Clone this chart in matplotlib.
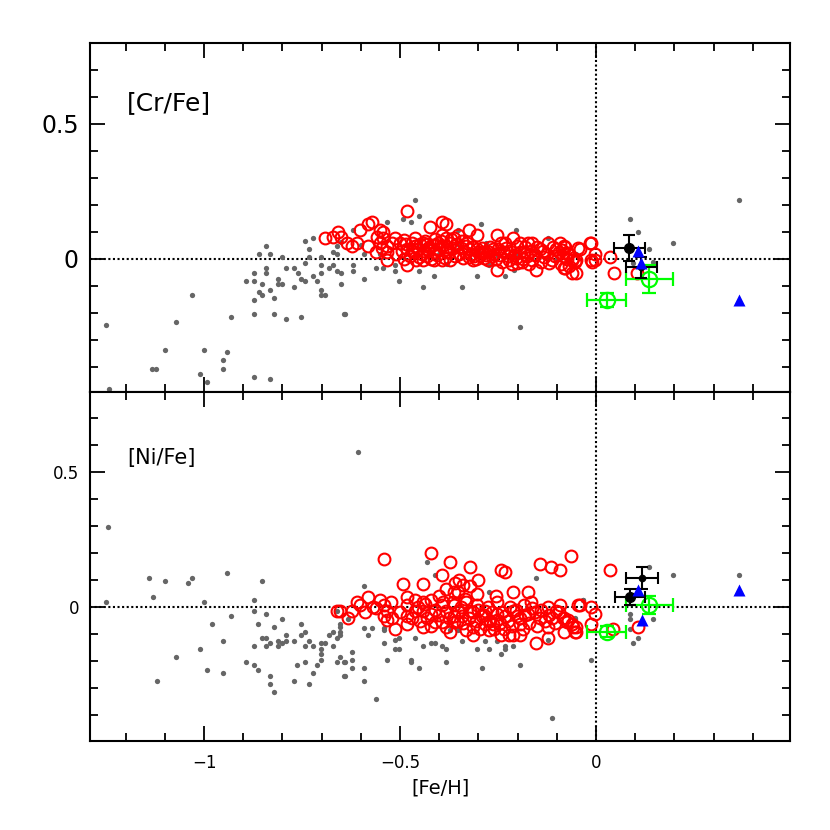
import numpy as np
import matplotlib
matplotlib.use("Agg")
import matplotlib.pyplot as plt
from matplotlib.ticker import MultipleLocator

# ---- [Cr/Fe] panel data ----
cr_gray = [
    (-1.251, -0.244), (-1.242, -0.482), (-1.031, -0.133), (-1.071, -0.235), (-1.100, -0.336),
    (-1.133, -0.406), (-1.122, -0.406), (-1.001, -0.336), (-1.011, -0.426), (-0.992, -0.456),
    (-0.951, -0.375), (-0.941, -0.344), (-0.952, -0.406), (-0.932, -0.214), (-0.892, -0.083),
    (-0.872, -0.053), (-0.872, -0.083), (-0.872, -0.154), (-0.872, -0.204), (-0.861, 0.017),
    (-0.841, 0.047), (-0.831, 0.017), (-0.841, -0.033), (-0.841, -0.053), (-0.851, -0.094),
    (-0.861, -0.123), (-0.851, -0.133), (-0.831, -0.114), (-0.821, -0.143), (-0.811, -0.073),
    (-0.811, -0.094), (-0.801, -0.094), (-0.801, 0.007), (-0.792, -0.033), (-0.821, -0.204),
    (-0.791, -0.223), (-0.771, -0.033), (-0.761, -0.053), (-0.771, -0.104), (-0.752, -0.073),
    (-0.742, -0.083), (-0.753, -0.214), (-0.742, 0.068), (-0.731, 0.037), (-0.722, 0.078),
    (-0.731, 0.007), (-0.742, -0.014), (-0.722, -0.063), (-0.712, -0.083), (-0.702, 0.007),
    (-0.702, -0.024), (-0.702, -0.053), (-0.702, -0.114), (-0.702, -0.133), (-0.691, -0.133),
    (-0.682, -0.033), (-0.672, -0.024), (-0.672, 0.027), (-0.661, 0.017), (-0.661, -0.043),
    (-0.651, -0.053), (-0.651, -0.094), (-0.641, -0.204), (-0.661, 0.047), (-0.651, 0.064),
    (-0.872, -0.436), (-0.831, -0.446),
    (-0.462, 0.219), (-0.452, 0.159), (-0.472, 0.138), (-0.492, 0.148), (-0.532, 0.138),
    (-0.621, 0.107), (-0.592, 0.019), (-0.621, -0.022), (-0.621, -0.043), (-0.592, -0.074),
    (-0.562, -0.033), (-0.543, -0.033), (-0.513, -0.024), (-0.513, -0.043), (-0.503, -0.083),
    (-0.452, -0.043), (-0.442, -0.104), (-0.413, -0.064), (-0.343, -0.104), (-0.303, -0.064),
    (-0.293, 0.128), (-0.233, -0.064), (-0.203, 0.107), (-0.193, -0.254), (-0.642, -0.205),
    (-0.351, 0.107), (-0.122, 0.077), (-0.274, -0.022), (-0.210, -0.040),
    (-0.40, 0.02), (-0.35, 0.05), (-0.30, 0.03), (-0.25, 0.01), (-0.45, 0.06), (-0.38, -0.02),
    (-0.28, 0.06), (-0.20, 0.02), (-0.15, 0.03), (-0.10, 0.00), (-0.05, 0.02), (-0.55, 0.02),
    (-0.60, 0.05),
    (0.087, 0.148), (0.106, 0.099), (0.136, 0.038), (0.146, -0.012), (0.196, 0.058),
    (0.366, 0.219), (0.095, -0.016),
]

cr_red = [
    (-0.691, 0.078), (-0.657, 0.099), (-0.636, 0.058), (-0.622, 0.048), (-0.602, 0.107),
    (-0.582, 0.128), (-0.571, 0.138), (-0.582, 0.048), (-0.562, 0.027), (-0.552, 0.107),
    (-0.543, 0.099), (-0.543, 0.078), (-0.532, 0.048), (-0.532, 0.027), (-0.532, -0.004),
    (-0.513, 0.078), (-0.521, 0.058), (-0.482, 0.179), (-0.490, 0.070), (-0.482, 0.037),
    (-0.482, -0.024), (-0.462, 0.078), (-0.462, 0.048), (-0.462, 0.027), (-0.452, 0.006),
    (-0.442, 0.058), (-0.442, -0.004), (-0.432, 0.037), (-0.423, 0.120), (-0.413, 0.027),
    (-0.413, -0.004), (-0.402, 0.058), (-0.393, 0.138), (-0.383, 0.128), (-0.393, 0.089),
    (-0.383, 0.078), (-0.393, 0.048), (-0.393, -0.004), (-0.383, 0.027), (-0.372, 0.058),
    (-0.372, -0.004), (-0.362, 0.078), (-0.352, 0.089), (-0.343, 0.068), (-0.332, 0.048),
    (-0.323, 0.107), (-0.303, 0.089), (-0.323, 0.009), (-0.313, -0.004), (-0.303, 0.037),
    (-0.292, 0.027), (-0.282, 0.027), (-0.273, 0.027), (-0.263, 0.037), (-0.252, 0.089),
    (-0.252, -0.041), (-0.242, 0.058), (-0.233, 0.058), (-0.223, -0.004), (-0.213, 0.078),
    (-0.202, 0.048), (-0.202, -0.016), (-0.193, 0.058), (-0.183, 0.027), (-0.173, 0.058),
    (-0.162, 0.058), (-0.162, -0.004), (-0.153, -0.041), (-0.143, 0.037), (-0.133, 0.009),
    (-0.122, 0.058), (-0.112, -0.004), (-0.102, 0.037), (-0.093, 0.058), (-0.082, 0.048),
    (-0.072, 0.017), (-0.062, -0.004), (-0.062, -0.053), (-0.052, -0.053), (-0.052, -0.004),
    (-0.042, 0.037), (-0.014, 0.058), (-0.014, -0.004), (-0.003, 0.017), (-0.003, -0.004),
    (-0.082, -0.034), (-0.088, 0.033), (-0.079, 0.046), (-0.071, 0.021), (-0.054, -0.010),
    (-0.079, -0.034), (-0.045, 0.040), (-0.015, 0.060), (-0.011, -0.010), (0.036, 0.009),
    (0.046, -0.053), (0.104, -0.053),
    (-0.470, 0.060), (-0.455, 0.035), (-0.445, 0.020), (-0.435, 0.065), (-0.425, 0.045),
    (-0.420, 0.000), (-0.410, 0.075), (-0.405, 0.015), (-0.400, 0.035), (-0.395, 0.065),
    (-0.385, 0.005), (-0.380, 0.045), (-0.375, 0.025), (-0.370, 0.075), (-0.365, 0.040),
    (-0.360, 0.010), (-0.355, 0.055), (-0.350, 0.020), (-0.345, 0.040), (-0.340, 0.005),
    (-0.335, 0.025), (-0.330, 0.060), (-0.325, 0.035), (-0.320, 0.020), (-0.315, 0.045),
    (-0.310, 0.010), (-0.305, 0.000), (-0.300, 0.025), (-0.295, 0.015), (-0.290, 0.040),
    (-0.285, 0.005), (-0.280, 0.015), (-0.275, -0.005), (-0.270, 0.045), (-0.265, 0.010),
    (-0.260, 0.020), (-0.255, 0.000), (-0.250, 0.035), (-0.245, 0.015), (-0.240, -0.010),
    (-0.235, 0.025), (-0.230, 0.040), (-0.225, 0.010), (-0.220, 0.030), (-0.215, -0.020),
    (-0.210, 0.015), (-0.205, 0.005), (-0.195, 0.025), (-0.190, -0.010), (-0.185, 0.000),
    (-0.180, 0.045), (-0.175, 0.010), (-0.170, -0.020), (-0.165, 0.030), (-0.155, 0.015),
    (-0.150, 0.045), (-0.140, -0.010), (-0.135, 0.030), (-0.125, 0.020), (-0.120, -0.015),
    (-0.110, 0.045), (-0.105, 0.010), (-0.095, 0.025), (-0.090, -0.020), (-0.085, 0.010),
    (-0.075, 0.000), (-0.068, -0.025), (-0.058, 0.005),
    (-0.510, 0.020), (-0.500, 0.060), (-0.495, 0.030), (-0.490, 0.000), (-0.485, 0.055),
    (-0.475, 0.010), (-0.470, 0.030), (-0.460, -0.005), (-0.450, 0.055), (-0.440, 0.030),
    (-0.430, 0.010), (-0.430, 0.055), (-0.415, 0.050), (-0.550, 0.060), (-0.560, 0.080),
    (-0.545, 0.040), (-0.610, 0.060), (-0.650, 0.080), (-0.670, 0.080),
]

# special objects: (x, y, xerr, yerr)
cr_black = [(0.085, 0.040, 0.039, 0.049), (0.116, -0.031, 0.039, 0.038)]
cr_green = [(0.136, -0.074, 0.060, 0.051), (0.027, -0.152, 0.050, 0.025)]
cr_blue = [(0.106, 0.030), (0.115, -0.016), (0.366, -0.152)]

# ---- [Ni/Fe] panel data ----
ni_gray = [
    (-1.245, 0.296), (-1.251, 0.017), (-1.140, 0.107), (-1.131, 0.037), (-1.121, -0.275),
    (-1.100, 0.097), (-1.071, -0.185), (-1.042, 0.088), (-1.032, 0.107), (-1.011, -0.154),
    (-1.001, 0.017), (-0.992, -0.235), (-0.981, -0.064), (-0.952, -0.125), (-0.952, -0.246),
    (-0.942, 0.127), (-0.931, -0.033), (-0.892, -0.205), (-0.872, 0.026), (-0.872, -0.014),
    (-0.872, -0.145), (-0.872, -0.215), (-0.862, -0.064), (-0.862, -0.235), (-0.851, 0.097),
    (-0.851, -0.115), (-0.841, -0.115), (-0.841, -0.024), (-0.841, -0.145), (-0.831, -0.135),
    (-0.831, -0.256), (-0.831, -0.285), (-0.822, -0.074), (-0.822, -0.316), (-0.811, -0.125),
    (-0.811, -0.145), (-0.801, -0.135), (-0.801, -0.043), (-0.792, -0.105), (-0.792, -0.125),
    (-0.771, -0.125), (-0.771, -0.275), (-0.762, -0.215), (-0.752, -0.064), (-0.752, -0.105),
    (-0.742, -0.094), (-0.742, -0.145), (-0.742, -0.205), (-0.731, -0.125), (-0.731, -0.285),
    (-0.721, -0.145), (-0.721, -0.246), (-0.712, -0.215), (-0.702, -0.135), (-0.702, -0.154),
    (-0.702, -0.175), (-0.702, -0.195), (-0.692, -0.135), (-0.682, -0.105), (-0.672, -0.094),
    (-0.672, -0.145), (-0.662, -0.115), (-0.662, -0.205), (-0.662, -0.014), (-0.652, -0.064),
    (-0.652, -0.094), (-0.652, -0.185), (-0.641, -0.205), (-0.641, -0.256), (-0.632, -0.045),
    (-0.607, 0.574), (-0.112, -0.410), (-0.561, -0.340),
    (-0.432, 0.168), (-0.412, 0.118), (-0.153, 0.108), (-0.273, 0.057), (-0.592, 0.078),
    (-0.592, -0.076), (-0.571, -0.076), (-0.542, -0.076), (-0.542, -0.085), (-0.582, -0.105),
    (-0.653, -0.073), (-0.653, -0.105), (-0.542, -0.135), (-0.512, -0.122), (-0.512, -0.156),
    (-0.502, -0.156), (-0.502, -0.116), (-0.462, -0.116), (-0.442, -0.145), (-0.422, -0.135),
    (-0.412, -0.135), (-0.392, -0.145), (-0.383, -0.156), (-0.372, -0.085), (-0.352, -0.085),
    (-0.343, -0.125), (-0.303, -0.156), (-0.282, -0.125), (-0.273, -0.156), (-0.252, -0.125),
    (-0.242, -0.174), (-0.233, -0.145), (-0.233, -0.156), (-0.213, -0.145), (-0.193, -0.215),
    (-0.292, -0.225), (-0.383, -0.205), (-0.452, -0.225), (-0.472, -0.196), (-0.472, -0.205),
    (-0.532, -0.195), (-0.592, -0.225), (-0.592, -0.275), (-0.622, -0.166), (-0.622, -0.196),
    (-0.622, -0.225), (-0.642, -0.205), (-0.642, -0.255), (-0.122, -0.122), (-0.053, -0.045),
    (-0.033, 0.027), (-0.014, -0.195),
    (0.136, 0.149), (0.196, 0.118), (0.366, 0.118), (-0.034, 0.026), (-0.054, -0.042),
    (0.087, -0.024), (0.087, -0.045), (0.146, -0.045), (0.087, -0.083), (0.106, -0.114),
    (0.095, -0.135),
]

ni_red = [
    (-0.542, 0.178), (-0.422, 0.199), (-0.372, 0.168), (-0.392, 0.118), (-0.322, 0.148),
    (-0.242, 0.138), (-0.233, 0.128), (-0.144, 0.158), (-0.114, 0.148), (-0.093, 0.138),
    (-0.063, 0.189), (-0.492, 0.087), (-0.442, 0.087), (-0.383, 0.068), (-0.362, 0.057),
    (-0.352, 0.057), (-0.322, 0.078), (-0.303, 0.048), (-0.213, 0.057), (-0.173, 0.057),
    (-0.582, 0.038), (-0.602, 0.007), (-0.622, -0.014), (-0.653, -0.014), (-0.632, -0.042),
    (-0.562, -0.005), (-0.552, 0.026), (-0.542, 0.007), (-0.532, -0.014), (-0.542, -0.034),
    (-0.532, -0.048), (-0.522, 0.017), (-0.512, -0.083), (-0.482, 0.038), (-0.482, 0.007),
    (-0.482, -0.034), (-0.482, -0.064), (-0.462, 0.026), (-0.462, -0.014), (-0.662, -0.014),
    (-0.442, 0.017), (-0.442, -0.014), (-0.442, -0.073), (-0.422, 0.026), (-0.422, -0.024),
    (-0.412, -0.055), (-0.392, 0.007), (-0.383, -0.014), (-0.392, -0.055), (-0.383, -0.073),
    (-0.372, -0.092), (-0.362, 0.007), (-0.352, -0.014), (-0.362, -0.034), (-0.343, -0.034),
    (-0.362, -0.055), (-0.332, 0.017), (-0.322, -0.014), (-0.332, -0.085), (-0.313, -0.105),
    (-0.313, -0.073), (-0.303, 0.007), (-0.292, -0.034), (-0.282, -0.064), (-0.282, -0.014),
    (-0.273, -0.085), (-0.263, -0.064), (-0.252, 0.017), (-0.252, -0.024), (-0.252, -0.048),
    (-0.242, -0.105), (-0.233, -0.034), (-0.223, -0.105), (-0.213, -0.014), (-0.213, -0.105),
    (-0.202, -0.034), (-0.193, -0.105), (-0.193, -0.064), (-0.183, 0.007), (-0.173, -0.024),
    (-0.162, -0.003), (-0.153, -0.135), (-0.143, -0.042), (-0.122, 0.001), (-0.122, -0.073),
    (-0.122, -0.113), (-0.112, -0.042), (-0.102, -0.014), (-0.093, 0.007), (-0.082, -0.042),
    (-0.072, -0.048), (-0.062, -0.064), (-0.052, -0.073), (-0.052, -0.092), (-0.082, -0.092),
    (-0.042, 0.007), (-0.014, 0.001), (-0.014, -0.064), (-0.003, -0.024),
    (-0.045, 0.007), (-0.083, -0.042), (-0.075, -0.054), (-0.058, -0.073), (-0.054, -0.092),
    (0.036, 0.137), (0.044, -0.083), (0.106, -0.075),
    (-0.430, -0.040), (-0.410, -0.010), (-0.400, -0.030), (-0.390, 0.020), (-0.375, -0.040),
    (-0.365, 0.020), (-0.355, -0.050), (-0.345, 0.000), (-0.340, -0.060), (-0.335, 0.030),
    (-0.325, -0.040), (-0.315, -0.020), (-0.305, -0.050), (-0.300, -0.010), (-0.295, -0.080),
    (-0.285, -0.030), (-0.275, 0.000), (-0.270, -0.050), (-0.265, -0.020), (-0.260, -0.080),
    (-0.255, 0.040), (-0.245, -0.060), (-0.240, -0.020), (-0.235, -0.080), (-0.225, -0.050),
    (-0.220, 0.000), (-0.215, -0.070), (-0.205, -0.010), (-0.195, -0.040), (-0.185, -0.080),
    (-0.180, -0.030), (-0.170, -0.060), (-0.165, 0.020), (-0.155, -0.020), (-0.150, -0.070),
    (-0.140, -0.010), (-0.130, -0.050), (-0.120, -0.030), (-0.105, -0.060), (-0.095, -0.020),
    (-0.500, -0.020), (-0.470, -0.040), (-0.455, 0.000), (-0.450, -0.050), (-0.435, 0.010),
    (-0.420, -0.070), (-0.400, 0.040), (-0.360, 0.090), (-0.350, 0.100), (-0.340, 0.080),
    (-0.300, 0.100), (-0.520, -0.040), (-0.570, 0.000), (-0.590, -0.020), (-0.610, 0.020),
]

ni_black = [(0.087, 0.038, 0.039, 0.030), (0.117, 0.108, 0.040, 0.040)]
ni_green = [(0.136, 0.007, 0.060, 0.032), (0.027, -0.092, 0.050, 0.020)]
ni_blue = [(0.108, 0.063), (0.117, -0.048), (0.366, 0.063)]


def minus_fmt(v, p):
    if abs(v) < 1e-9:
        return '0'
    return f'{v:g}'.replace('-', '\u2212')


fig = plt.figure(figsize=(8.3, 8.3), dpi=100)
ax1 = fig.add_axes([90 / 830, 1 - 392 / 830, 700 / 830, 349 / 830])
ax2 = fig.add_axes([90 / 830, 1 - 741 / 830, 700 / 830, 349 / 830], sharex=ax1)


def draw_panel(ax, gray, red, black, green, blue, ylim, label, label_y, label_size, tick_size):
    g = np.array(gray)
    r = np.array(red)
    ax.plot(g[:, 0], g[:, 1], 'o', ms=3.8, color='#666666', mec='none', zorder=2)
    ax.plot(r[:, 0], r[:, 1], 'o', ms=8.5, mfc='none', mec='#ff0000', mew=1.5, zorder=3)
    ax.axhline(0, color='k', ls=(0, (1, 1.2)), lw=1.5, zorder=1)
    ax.axvline(0, color='k', ls=(0, (1, 1.2)), lw=1.5, zorder=1)

    for x, y, xe, ye in green:
        ax.errorbar(x, y, xerr=xe, yerr=ye, fmt='o', ms=11, mfc='none', mec='#00ff00',
                    mew=1.6, ecolor='#00ff00', elinewidth=1.6, capsize=5, capthick=1.6,
                    zorder=4)
    for i, (x, y, xe, ye) in enumerate(black):
        ax.errorbar(x, y, xerr=xe, yerr=ye, fmt='o', ms=7 if i == 0 else 4.5, color='k',
                    elinewidth=1.5, capsize=4, capthick=1.5, zorder=5)
    b = np.array(blue)
    ax.plot(b[:, 0], b[:, 1], '^', ms=9, color='#0000ff', mec='none', zorder=6)

    ax.set_xlim(-1.291, 0.495)
    ax.set_ylim(*ylim)
    ax.xaxis.set_major_locator(MultipleLocator(0.5))
    ax.xaxis.set_minor_locator(MultipleLocator(0.1))
    ax.yaxis.set_major_locator(MultipleLocator(0.5))
    ax.yaxis.set_minor_locator(MultipleLocator(0.1))
    ax.tick_params(which='both', direction='in', top=True, right=True, width=1.3)
    ax.tick_params(which='major', length=11)
    ax.tick_params(which='minor', length=5.5)
    ax.tick_params(axis='y', labelsize=tick_size, pad=8)
    ax.yaxis.set_major_formatter(plt.FuncFormatter(minus_fmt))
    for s in ax.spines.values():
        s.set_linewidth(1.5)
    ax.text(-1.196, label_y, label, fontsize=label_size, va='center', ha='left')


draw_panel(ax1, cr_gray, cr_red, cr_black, cr_green, cr_blue, (-0.493, 0.8),
           '[Cr/Fe]', 0.578, 18, 17)
draw_panel(ax2, ni_gray, ni_red, ni_black, ni_green, ni_blue, (-0.496, 0.796),
           '[Ni/Fe]', 0.552, 15, 12)

plt.setp(ax1.get_xticklabels(), visible=False)
ax2.tick_params(axis='x', labelsize=12, pad=9)
ax2.xaxis.set_major_formatter(plt.FuncFormatter(minus_fmt))
ax2.set_xlabel('[Fe/H]', fontsize=14, labelpad=5)

fig.savefig('out.png', dpi=100)
